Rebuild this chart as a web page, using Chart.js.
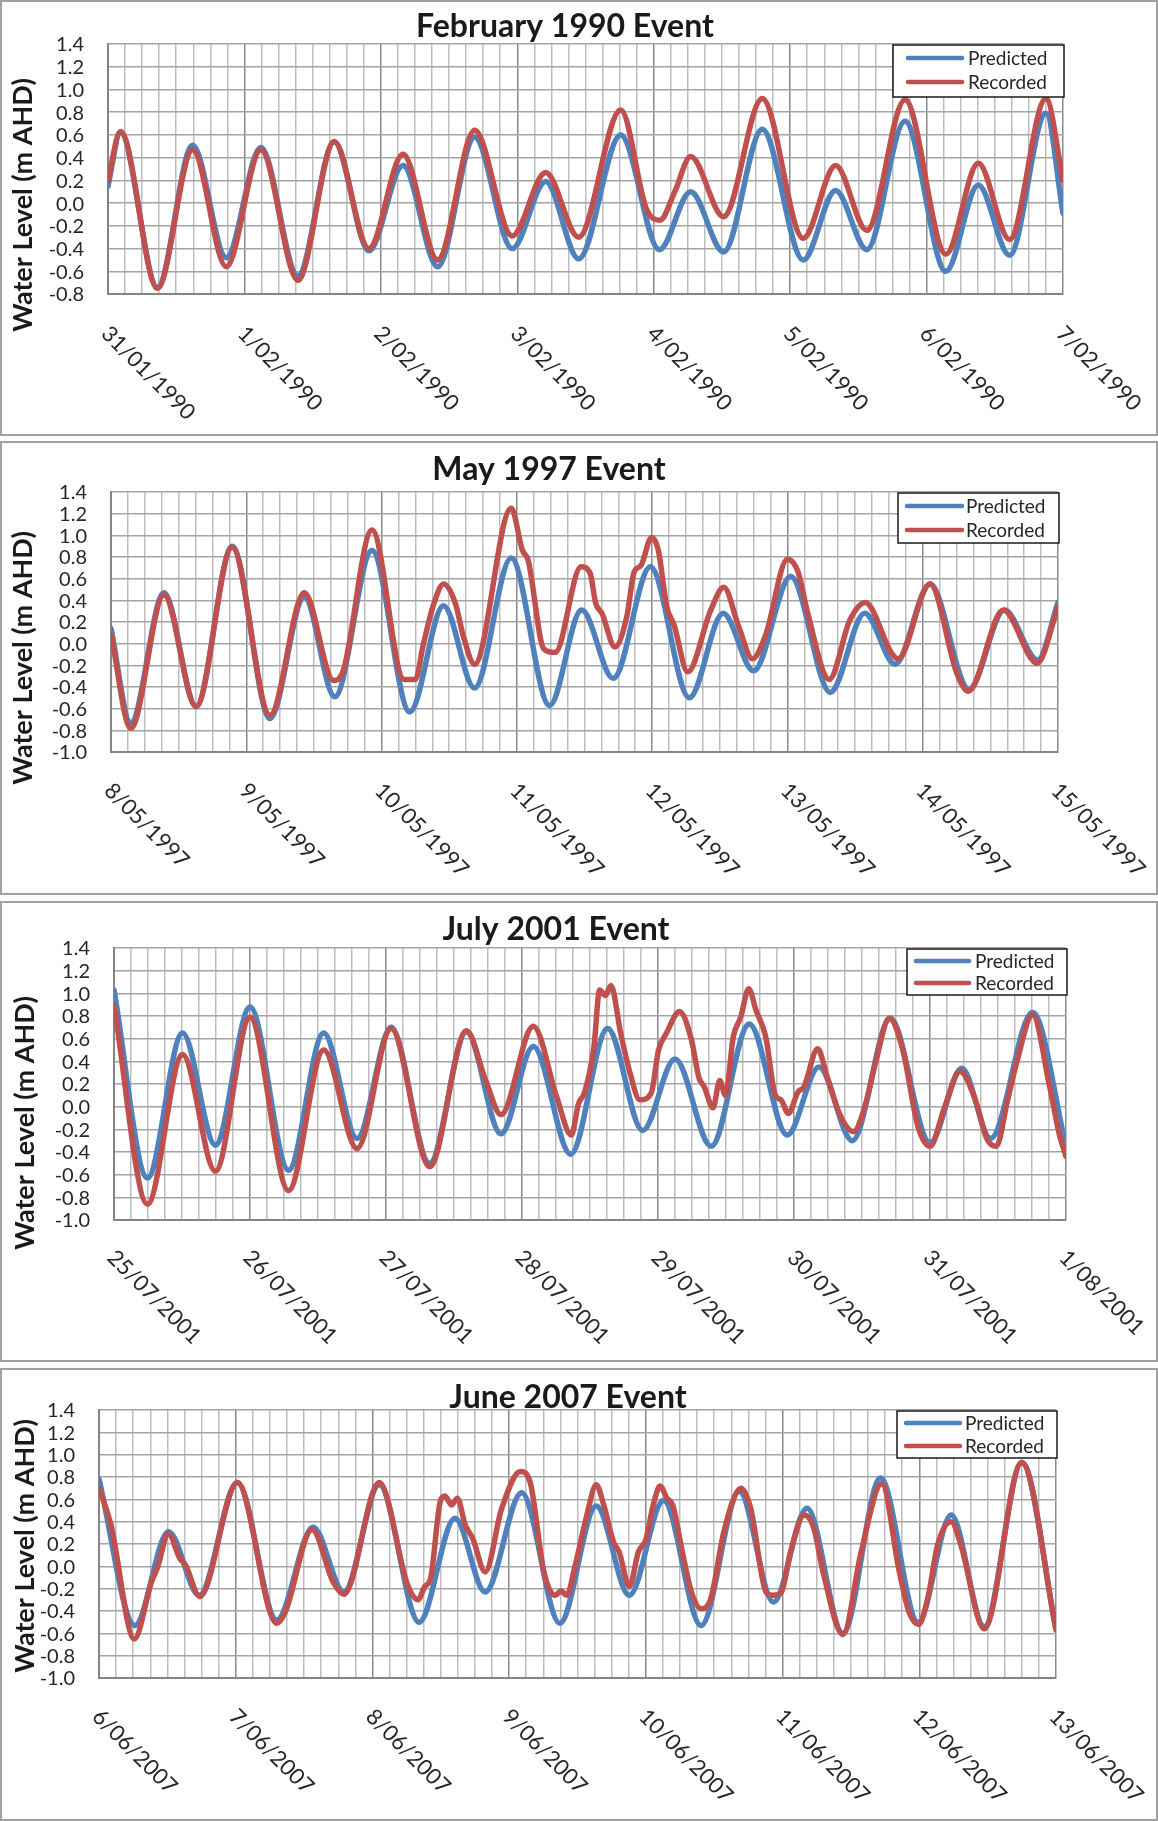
<!DOCTYPE html>
<html>
<head>
<meta charset="utf-8">
<script src="https://cdn.jsdelivr.net/npm/chart.js@4.4.1/dist/chart.umd.min.js"></script>
<style>
html,body{margin:0;padding:0;background:#ffffff;}
body{width:1158px;height:1821px;position:relative;overflow:hidden;}
canvas{position:absolute;left:0;}
</style>
</head>
<body>
<canvas id="c1"></canvas>
<canvas id="c2"></canvas>
<canvas id="c3"></canvas>
<canvas id="c4"></canvas>
<script>
// ---------------- DATA ----------------
const seriesNames = ['Predicted', 'Recorded'];
const yTitle = 'Water Level (m AHD)';

// Panel 1 : February 1990
const p1Title = 'February 1990 Event';
const p1Days = ['31/01/1990','1/02/1990','2/02/1990','3/02/1990','4/02/1990','5/02/1990','6/02/1990','7/02/1990'];
const p1PredT = [0, 2.2, 8.7, 14.9, 20.8, 26.9, 33.4, 39.8, 45.9, 51.9, 58.0, 64.5, 71.1, 77.0, 82.8, 90.2, 97.0, 102.5, 108.3, 115.1, 122.3, 128.0, 133.5, 140.2, 147.4, 153.1, 158.6, 165.0, 168];
const p1PredV = [0.15, 0.62, -0.74, 0.51, -0.48, 0.49, -0.64, 0.54, -0.42, 0.33, -0.56, 0.58, -0.40, 0.19, -0.49, 0.60, -0.41, 0.10, -0.43, 0.65, -0.50, 0.11, -0.41, 0.72, -0.60, 0.16, -0.46, 0.79, -0.09];
const p1RecT = [0, 2.2, 8.7, 14.9, 20.8, 26.9, 33.4, 39.8, 45.9, 51.9, 58.0, 64.5, 71.1, 77.0, 82.8, 90.2, 94.7, 97.1, 99.7, 102.5, 108.3, 115.1, 122.3, 128.0, 133.5, 140.2, 147.4, 153.1, 158.6, 165.0, 168];
const p1RecV = [0.20, 0.63, -0.75, 0.47, -0.56, 0.47, -0.68, 0.54, -0.40, 0.43, -0.50, 0.64, -0.29, 0.27, -0.30, 0.82, -0.05, -0.15, 0.10, 0.41, -0.12, 0.92, -0.31, 0.33, -0.24, 0.91, -0.45, 0.35, -0.32, 0.92, 0.20];

// Panel 2 : May 1997
const p2Title = 'May 1997 Event';
const p2Days = ['8/05/1997','9/05/1997','10/05/1997','11/05/1997','12/05/1997','13/05/1997','14/05/1997','15/05/1997'];
const p2PredT = [0, 3.5, 9.4, 15.1, 21.5, 28.2, 34.3, 39.7, 46.3, 53.0, 59.0, 64.5, 71.0, 77.8, 83.5, 89.1, 95.7, 102.6, 108.6, 114.0, 120.6, 127.6, 133.7, 139.1, 145.3, 152.2, 158.5, 164.4, 168];
const p2PredV = [0.14, -0.73, 0.47, -0.58, 0.90, -0.69, 0.43, -0.49, 0.86, -0.63, 0.35, -0.41, 0.79, -0.57, 0.31, -0.32, 0.71, -0.50, 0.28, -0.25, 0.62, -0.45, 0.28, -0.19, 0.55, -0.42, 0.31, -0.15, 0.38];
const p2RecT = [0, 3.5, 9.4, 15.1, 21.5, 28.2, 34.3, 39.5, 41.2, 46.3, 52.0, 54.0, 55.4, 57.1, 59.0, 61.1, 62.5, 64.5, 71.0, 73.0, 74.0, 76.8, 78.8, 83.4, 85.0, 86.0, 87.1, 89.4, 91.5, 92.8, 94.0, 95.9, 97.1, 98.6, 99.9, 102.3, 106.4, 108.7, 111.4, 113.8, 116.2, 120.0, 121.9, 123.6, 127.4, 131.1, 133.8, 138.5, 139.6, 145.3, 150.1, 152.1, 158.3, 164.3, 168];
const p2RecV = [0.09, -0.78, 0.45, -0.58, 0.89, -0.66, 0.47, -0.34, -0.25, 1.05, -0.33, -0.33, -0.01, 0.34, 0.55, 0.37, 0.07, -0.19, 1.25, 0.86, 0.77, -0.05, -0.08, 0.71, 0.65, 0.37, 0.28, -0.03, 0.25, 0.66, 0.72, 0.98, 0.86, 0.34, 0.17, -0.26, 0.31, 0.52, 0.15, -0.14, 0.09, 0.78, 0.66, 0.28, -0.33, 0.22, 0.38, -0.09, -0.14, 0.55, -0.28, -0.44, 0.31, -0.18, 0.34];

// Panel 3 : July 2001
const p3Title = 'July 2001 Event';
const p3Days = ['25/07/2001','26/07/2001','27/07/2001','28/07/2001','29/07/2001','30/07/2001','31/07/2001','1/08/2001'];
const p3PredT = [0, 5.9, 12.1, 17.9, 24.0, 30.8, 37.0, 42.9, 48.9, 55.7, 62.2, 68.3, 74.0, 80.6, 87.1, 93.3, 99.0, 105.4, 112.1, 118.8, 124.4, 130.3, 137.0, 144.0, 149.6, 154.7, 162.1, 168];
const p3PredV = [1.03, -0.63, 0.65, -0.34, 0.88, -0.56, 0.65, -0.28, 0.70, -0.50, 0.66, -0.24, 0.53, -0.42, 0.69, -0.21, 0.42, -0.35, 0.73, -0.25, 0.35, -0.30, 0.78, -0.32, 0.34, -0.28, 0.83, -0.35];
const p3RecT = [0, 5.9, 12.1, 17.9, 24.0, 30.8, 37.0, 42.9, 48.9, 55.7, 62.2, 65.6, 68.3, 74.0, 78.1, 80.7, 82.0, 83.0, 84.7, 85.7, 86.7, 87.7, 89.4, 91.1, 92.8, 94.8, 96.1, 97.5, 99.8, 101.9, 103.2, 104.2, 105.7, 106.9, 107.9, 109.3, 110.6, 112.0, 113.3, 115.0, 116.7, 117.7, 119.0, 120.7, 121.7, 124.2, 125.7, 128.1, 130.5, 132.5, 134.5, 136.8, 139.2, 141.9, 144.0, 146.6, 149.3, 152.0, 154.0, 155.7, 157.7, 159.4, 162.1, 165.1, 166.8, 168];
const p3RecV = [0.89, -0.86, 0.46, -0.57, 0.79, -0.74, 0.50, -0.37, 0.69, -0.53, 0.67, 0.23, -0.07, 0.71, 0.09, -0.25, 0.03, 0.12, 0.53, 1.03, 0.98, 1.07, 0.65, 0.29, 0.06, 0.12, 0.50, 0.65, 0.84, 0.59, 0.26, 0.17, -0.01, 0.23, 0.10, 0.62, 0.79, 1.04, 0.85, 0.62, 0.10, 0.06, -0.06, 0.13, 0.17, 0.51, 0.29, -0.07, -0.22, 0.00, 0.41, 0.78, 0.50, -0.18, -0.35, 0.00, 0.31, 0.06, -0.28, -0.35, 0.06, 0.41, 0.81, 0.18, -0.24, -0.44];

// Panel 4 : June 2007
const p4Title = 'June 2007 Event';
const p4Days = ['6/06/2007','7/06/2007','8/06/2007','9/06/2007','10/06/2007','11/06/2007','12/06/2007','13/06/2007'];
const p4PredT = [0, 6.3, 12.2, 17.6, 24.3, 31.2, 37.6, 43.0, 49.2, 56.2, 62.5, 67.8, 74.2, 80.9, 87.3, 93.1, 99.1, 105.7, 112.4, 118.4, 124.3, 130.6, 137.2, 143.8, 149.6, 155.4, 162.0, 168];
const p4PredV = [0.78, -0.53, 0.31, -0.26, 0.75, -0.48, 0.35, -0.23, 0.73, -0.50, 0.43, -0.23, 0.66, -0.51, 0.54, -0.26, 0.59, -0.53, 0.67, -0.32, 0.52, -0.60, 0.79, -0.50, 0.46, -0.54, 0.93, -0.56];
const p4RecT = [0, 2.1, 6.2, 9.2, 10.2, 12.2, 14.2, 15.2, 17.7, 24.3, 31.2, 32.7, 37.4, 41.1, 43.0, 49.2, 54.2, 56.0, 57.2, 58.2, 59.9, 60.7, 61.9, 62.9, 64.3, 65.6, 67.8, 70.7, 74.0, 75.7, 78.1, 80.1, 81.1, 82.1, 83.6, 85.6, 87.3, 88.6, 90.3, 91.3, 93.1, 94.7, 96.0, 97.3, 98.5, 99.7, 100.7, 102.4, 104.0, 105.7, 107.4, 109.7, 112.7, 114.4, 117.1, 118.4, 119.8, 121.4, 123.8, 125.5, 127.1, 130.6, 133.8, 137.4, 140.5, 142.2, 143.9, 145.6, 147.2, 149.6, 151.3, 155.4, 162.0, 168];
const p4RecV = [0.70, 0.37, -0.65, -0.14, -0.02, 0.29, 0.07, 0.01, -0.27, 0.75, -0.51, -0.41, 0.33, -0.14, -0.25, 0.75, -0.17, -0.30, -0.18, -0.11, 0.58, 0.63, 0.55, 0.61, 0.37, 0.25, -0.05, 0.52, 0.85, 0.75, -0.05, -0.26, -0.22, -0.26, 0.01, 0.45, 0.73, 0.55, 0.22, 0.13, -0.18, 0.13, 0.24, 0.55, 0.72, 0.61, 0.55, 0.13, -0.23, -0.38, -0.29, 0.31, 0.70, 0.52, -0.23, -0.26, -0.23, 0.13, 0.46, 0.34, -0.05, -0.61, 0.13, 0.74, -0.05, -0.41, -0.52, -0.26, 0.19, 0.40, 0.19, -0.56, 0.93, -0.57];

// axis ticks
const yTicksA = [-0.8, -0.6, -0.4, -0.2, 0.0, 0.2, 0.4, 0.6, 0.8, 1.0, 1.2, 1.4];
const yTicksB = [-1.0, -0.8, -0.6, -0.4, -0.2, 0.0, 0.2, 0.4, 0.6, 0.8, 1.0, 1.2, 1.4];
const hoursPerDay = 24;
const gridStepHours = 3;
const spanHours = 168;

// ---------------- STYLE ----------------
const BLUE = '#4F81BD';
const RED = '#C0504D';
const TXT = '#262626';
const FONT = 'Lato, "Open Sans", "Liberation Sans", sans-serif';

const panels = [
  { id:'c1', top:0, h:436, pad:{left:108,right:95,top:44,bottom:142}, title:p1Title, days:p1Days, yTicks:yTicksA,
    predT:p1PredT, predV:p1PredV, recT:p1RecT, recV:p1RecV,
    titleX:565, titleY:37, yTitleX:23, yTitleY:205, labDy:36,
    leg:{w:171,h:52,l0:15,l1:69,tx:75,y1:13,y2:37} },
  { id:'c2', top:441, h:454, pad:{left:111,right:100,top:51,bottom:143}, title:p2Title, days:p2Days, yTicks:yTicksB,
    predT:p2PredT, predV:p2PredV, recT:p2RecT, recV:p2RecV,
    titleX:549, titleY:39, yTitleX:23, yTitleY:217, labDy:35,
    leg:{w:161,h:50,l0:9,l1:64,tx:68,y1:13,y2:37} },
  { id:'c3', top:901, h:461, pad:{left:114,right:92,top:47,bottom:142}, title:p3Title, days:p3Days, yTicks:yTicksB,
    predT:p3PredT, predV:p3PredV, recT:p3RecT, recV:p3RecV,
    titleX:556, titleY:39, yTitleX:25, yTitleY:222, labDy:34,
    leg:{w:160,h:46,l0:9,l1:62,tx:68,y1:12,y2:34} },
  { id:'c4', top:1368, h:453, pad:{left:99,right:102,top:42,bottom:143}, title:p4Title, days:p4Days, yTicks:yTicksB,
    predT:p4PredT, predV:p4PredV, recT:p4RecT, recV:p4RecV,
    titleX:568, titleY:40, yTitleX:25, yTitleY:178, labDy:35,
    leg:{w:160,h:47,l0:9,l1:63,tx:68,y1:12,y2:35} }
];

const toXY = (t, v) => t.map((x, i) => ({ x: x, y: v[i] }));
const fmt = v => (Math.abs(v) < 1e-9 ? 0 : v).toFixed(1);

const decor = {
  id: 'decor',
  beforeDraw(chart) {
    const ctx = chart.ctx;
    ctx.save();
    ctx.fillStyle = '#ffffff';
    ctx.fillRect(0, 0, chart.width, chart.height);
    ctx.restore();
  },
  afterDraw(chart) {
    const o = chart.options.plugins.decor;
    const ctx = chart.ctx, a = chart.chartArea, xs = chart.scales.x, ys = chart.scales.y;
    ctx.save();
    // panel frame
    ctx.strokeStyle = '#A0A0A0';
    ctx.lineWidth = 2;
    ctx.strokeRect(1, 1, chart.width - 2, chart.height - 2);
    // title
    ctx.fillStyle = '#1A1A1A';
    ctx.font = 'bold 32px ' + FONT;
    ctx.textAlign = 'center';
    ctx.textBaseline = 'alphabetic';
    ctx.fillText(o.title, o.titleX, o.titleY);
    // y axis title
    ctx.save();
    ctx.translate(o.yTitleX, o.yTitleY);
    ctx.rotate(-Math.PI / 2);
    ctx.font = 'bold 27px ' + FONT;
    ctx.textAlign = 'center';
    ctx.textBaseline = 'middle';
    ctx.fillText(yTitle, 0, 0);
    ctx.restore();
    // y tick labels
    ctx.fillStyle = TXT;
    ctx.font = '20px ' + FONT;
    ctx.textAlign = 'right';
    ctx.textBaseline = 'middle';
    o.yTicks.forEach(v => {
      ctx.fillText(fmt(v), a.left - 24, ys.getPixelForValue(v) + 1);
    });
    // x date labels (rotated clockwise 45deg)
    ctx.font = '22px ' + FONT;
    ctx.textAlign = 'left';
    ctx.textBaseline = 'middle';
    o.days.forEach((d, i) => {
      const x = xs.getPixelForValue(i * hoursPerDay);
      ctx.save();
      ctx.translate(x - 3, a.bottom + o.labDy);
      ctx.rotate(Math.PI / 4);
      ctx.fillText(d, 0, 0);
      ctx.restore();
    });
    // legend
    const L = o.leg;
    const bx = a.right + 1 - L.w, by = a.top + 1;
    ctx.fillStyle = '#ffffff';
    ctx.fillRect(bx, by, L.w, L.h);
    ctx.strokeStyle = '#1A1A1A';
    ctx.lineWidth = 1.5;
    ctx.strokeRect(bx, by, L.w, L.h);
    ctx.lineCap = 'round';
    ctx.lineWidth = 4.5;
    const ds = chart.data.datasets;
    [[ds[0], L.y1], [ds[1], L.y2]].forEach(([d, yy]) => {
      ctx.strokeStyle = d.borderColor;
      ctx.beginPath();
      ctx.moveTo(bx + L.l0, by + yy);
      ctx.lineTo(bx + L.l1, by + yy);
      ctx.stroke();
      ctx.fillStyle = TXT;
      ctx.font = '19px ' + FONT;
      ctx.textAlign = 'left';
      ctx.textBaseline = 'middle';
      ctx.fillText(d.label, bx + L.tx, by + yy + 1);
    });
    ctx.restore();
  }
};

panels.forEach(p => {
  const cv = document.getElementById(p.id);
  cv.width = 1158; cv.height = p.h;
  cv.style.width = '1158px'; cv.style.height = p.h + 'px';
  cv.style.top = p.top + 'px';
  const yMin = p.yTicks[0], yMax = p.yTicks[p.yTicks.length - 1];
  new Chart(cv.getContext('2d'), {
    type: 'line',
    data: {
      datasets: [
        { label: seriesNames[0], data: toXY(p.predT, p.predV), borderColor: BLUE, backgroundColor: BLUE,
          borderWidth: 5.5, pointRadius: 0, pointHoverRadius: 0, cubicInterpolationMode: 'monotone',
          fill: false, borderCapStyle: 'round', borderJoinStyle: 'round', order: 2 },
        { label: seriesNames[1], data: toXY(p.recT, p.recV), borderColor: RED, backgroundColor: RED,
          borderWidth: 5.5, pointRadius: 0, pointHoverRadius: 0, cubicInterpolationMode: 'monotone',
          fill: false, borderCapStyle: 'round', borderJoinStyle: 'round', order: 1 }
      ]
    },
    options: {
      responsive: false,
      animation: false,
      devicePixelRatio: 1,
      events: [],
      layout: { padding: p.pad },
      plugins: {
        legend: { display: false },
        title: { display: false },
        tooltip: { enabled: false },
        decor: p
      },
      scales: {
        x: {
          type: 'linear', min: 0, max: spanHours,
          afterBuildTicks: s => {
            const t = [];
            for (let h = 0; h <= spanHours; h += gridStepHours) t.push({ value: h });
            s.ticks = t;
          },
          afterFit: s => { s.height = 0; },
          ticks: { display: false },
          grid: {
            drawTicks: false,
            lineWidth: 1.5,
            color: c => (c.tick && c.tick.value % hoursPerDay === 0) ? '#8A8A8A' : '#BDBDBD'
          },
          border: { display: true, color: '#858585', width: 2 }
        },
        y: {
          type: 'linear', min: yMin, max: yMax,
          afterBuildTicks: s => { s.ticks = p.yTicks.map(v => ({ value: v })); },
          afterFit: s => { s.width = 0; },
          ticks: { display: false },
          grid: { drawTicks: false, lineWidth: 1.5, color: '#A4A4A4' },
          border: { display: true, color: '#858585', width: 2 }
        }
      }
    },
    plugins: [decor]
  });
});
</script>
</body>
</html>
